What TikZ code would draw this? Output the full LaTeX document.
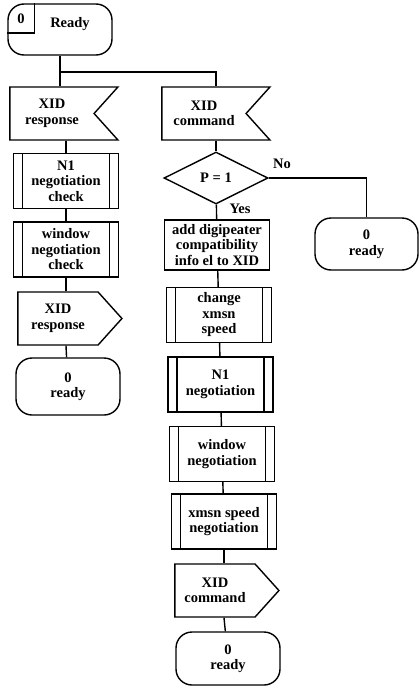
\documentclass[tikz,border=0pt]{standalone}
\usepackage{fontspec}
\setmainfont{Liberation Serif}
\usetikzlibrary{shapes.symbols,shapes.geometric}

\tikzset{
  box/.style={draw, line width=1.4pt, align=center, inner sep=1pt,
    font=\fontsize{14.5}{15.5}\selectfont\bfseries},
  term/.style={box, rectangle, rounded corners=16pt, minimum width=104pt, minimum height=54pt},
  proc/.style={box, rectangle, minimum width=105pt, minimum height=55pt},
  predef/.style={proc, path picture={
      \draw[line width=1.4pt] ([xshift=9pt]path picture bounding box.north west) -- ([xshift=9pt]path picture bounding box.south west);
      \draw[line width=1.4pt] ([xshift=-9pt]path picture bounding box.north east) -- ([xshift=-9pt]path picture bounding box.south east);}},
  recv/.style={box, signal, signal to=nowhere, signal from=east, signal pointer angle=96, minimum width=108pt, minimum height=53pt},
  send/.style={box, signal, signal to=east, signal pointer angle=96, minimum width=104pt, minimum height=53pt},
  decision/.style={box, diamond, minimum width=104pt, minimum height=52pt},
  lbl/.style={font=\fontsize{14.5}{15.5}\selectfont\bfseries},
  link/.style={line width=1.4pt}
}

\begin{document}
\begin{tikzpicture}[x=1pt, y=-1pt]
  \useasboundingbox (0,0) rectangle (419,688);

  % start state
  \node[term, minimum height=51pt] (start) at (60,29.5) {};
  \node[lbl] (zero) at (21,19) {0};
  \node[lbl] (readytxt) at (70,24) {Ready};
  \draw[link] ([xshift=27pt]start.west |- start.north) |- ([yshift=-3.5pt]start.west);
  \coordinate (split) at (60,72);

  % response branch
  \node[recv] (rresp) at (52,113.5) {XID\\response};
  \node[predef] (n1chk) at (66,181) {N1\\negotiation\\check};
  \node[predef] (winchk) at (66,249.5) {window\\negotiation\\check};
  \node[send] (sresp) at (58,318.5) {XID\\response};
  \node[term, minimum height=57pt] (lready) at (68,386.5) {0\\ready};

  % command branch
  \node[recv] (rcmd) at (204,113.5) {XID\\command};
  \node[decision] (p1) at (216,178) {P = 1};
  \node[term, minimum width=103pt, minimum height=52pt] (noready) at (366.5,244) {0\\ready};
  \node[proc, minimum height=50pt] (digi) at (217,245) {add digipeater\\compatibility\\info el to XID};
  \node[predef] (chg) at (219,315) {change\\xmsn\\speed};
  \node[predef] (n1neg) at (220.5,384.5) {N1\\negotiation};
  \node[predef] (winneg) at (222,454) {window\\negotiation};
  \node[predef] (spdneg) at (224,521.5) {xmsn speed\\negotiation};
  \node[send] (scmd) at (215,590.5) {XID\\command};
  \node[term, minimum height=53pt] (rready) at (228,658.5) {0\\ready};

  \node[lbl] (no) at (282,164) {No};
  \node[lbl] (yes) at (240,209) {Yes};

  % connectors
  \draw[link] (start) -- (start |- rresp.north);
  \draw[link] (split) -| (p1.north |- rcmd.north);
  \draw[link] (p1.north |- rcmd.south) -- (p1);
  \draw[link] (rresp.south -| n1chk) -- (n1chk);
  \draw[link] (n1chk) -- (winchk);
  \draw[link] (winchk.south) -- (winchk.south |- sresp.north);
  \draw[link] (winchk.south |- sresp.south) -- (lready);
  \draw[link] (p1.east) -| (noready);
  \draw[link] (p1) -- (digi);
  \draw[link] (digi) -- (chg);
  \draw[link] (chg) -- (n1neg);
  \draw[link] (n1neg) -- (winneg);
  \draw[link] (winneg) -- (spdneg);
  \draw[link] (spdneg.south) -- (spdneg.south |- scmd.north);
  \draw[link] (spdneg.south |- scmd.south) -- (rready);
\end{tikzpicture}
\end{document}
